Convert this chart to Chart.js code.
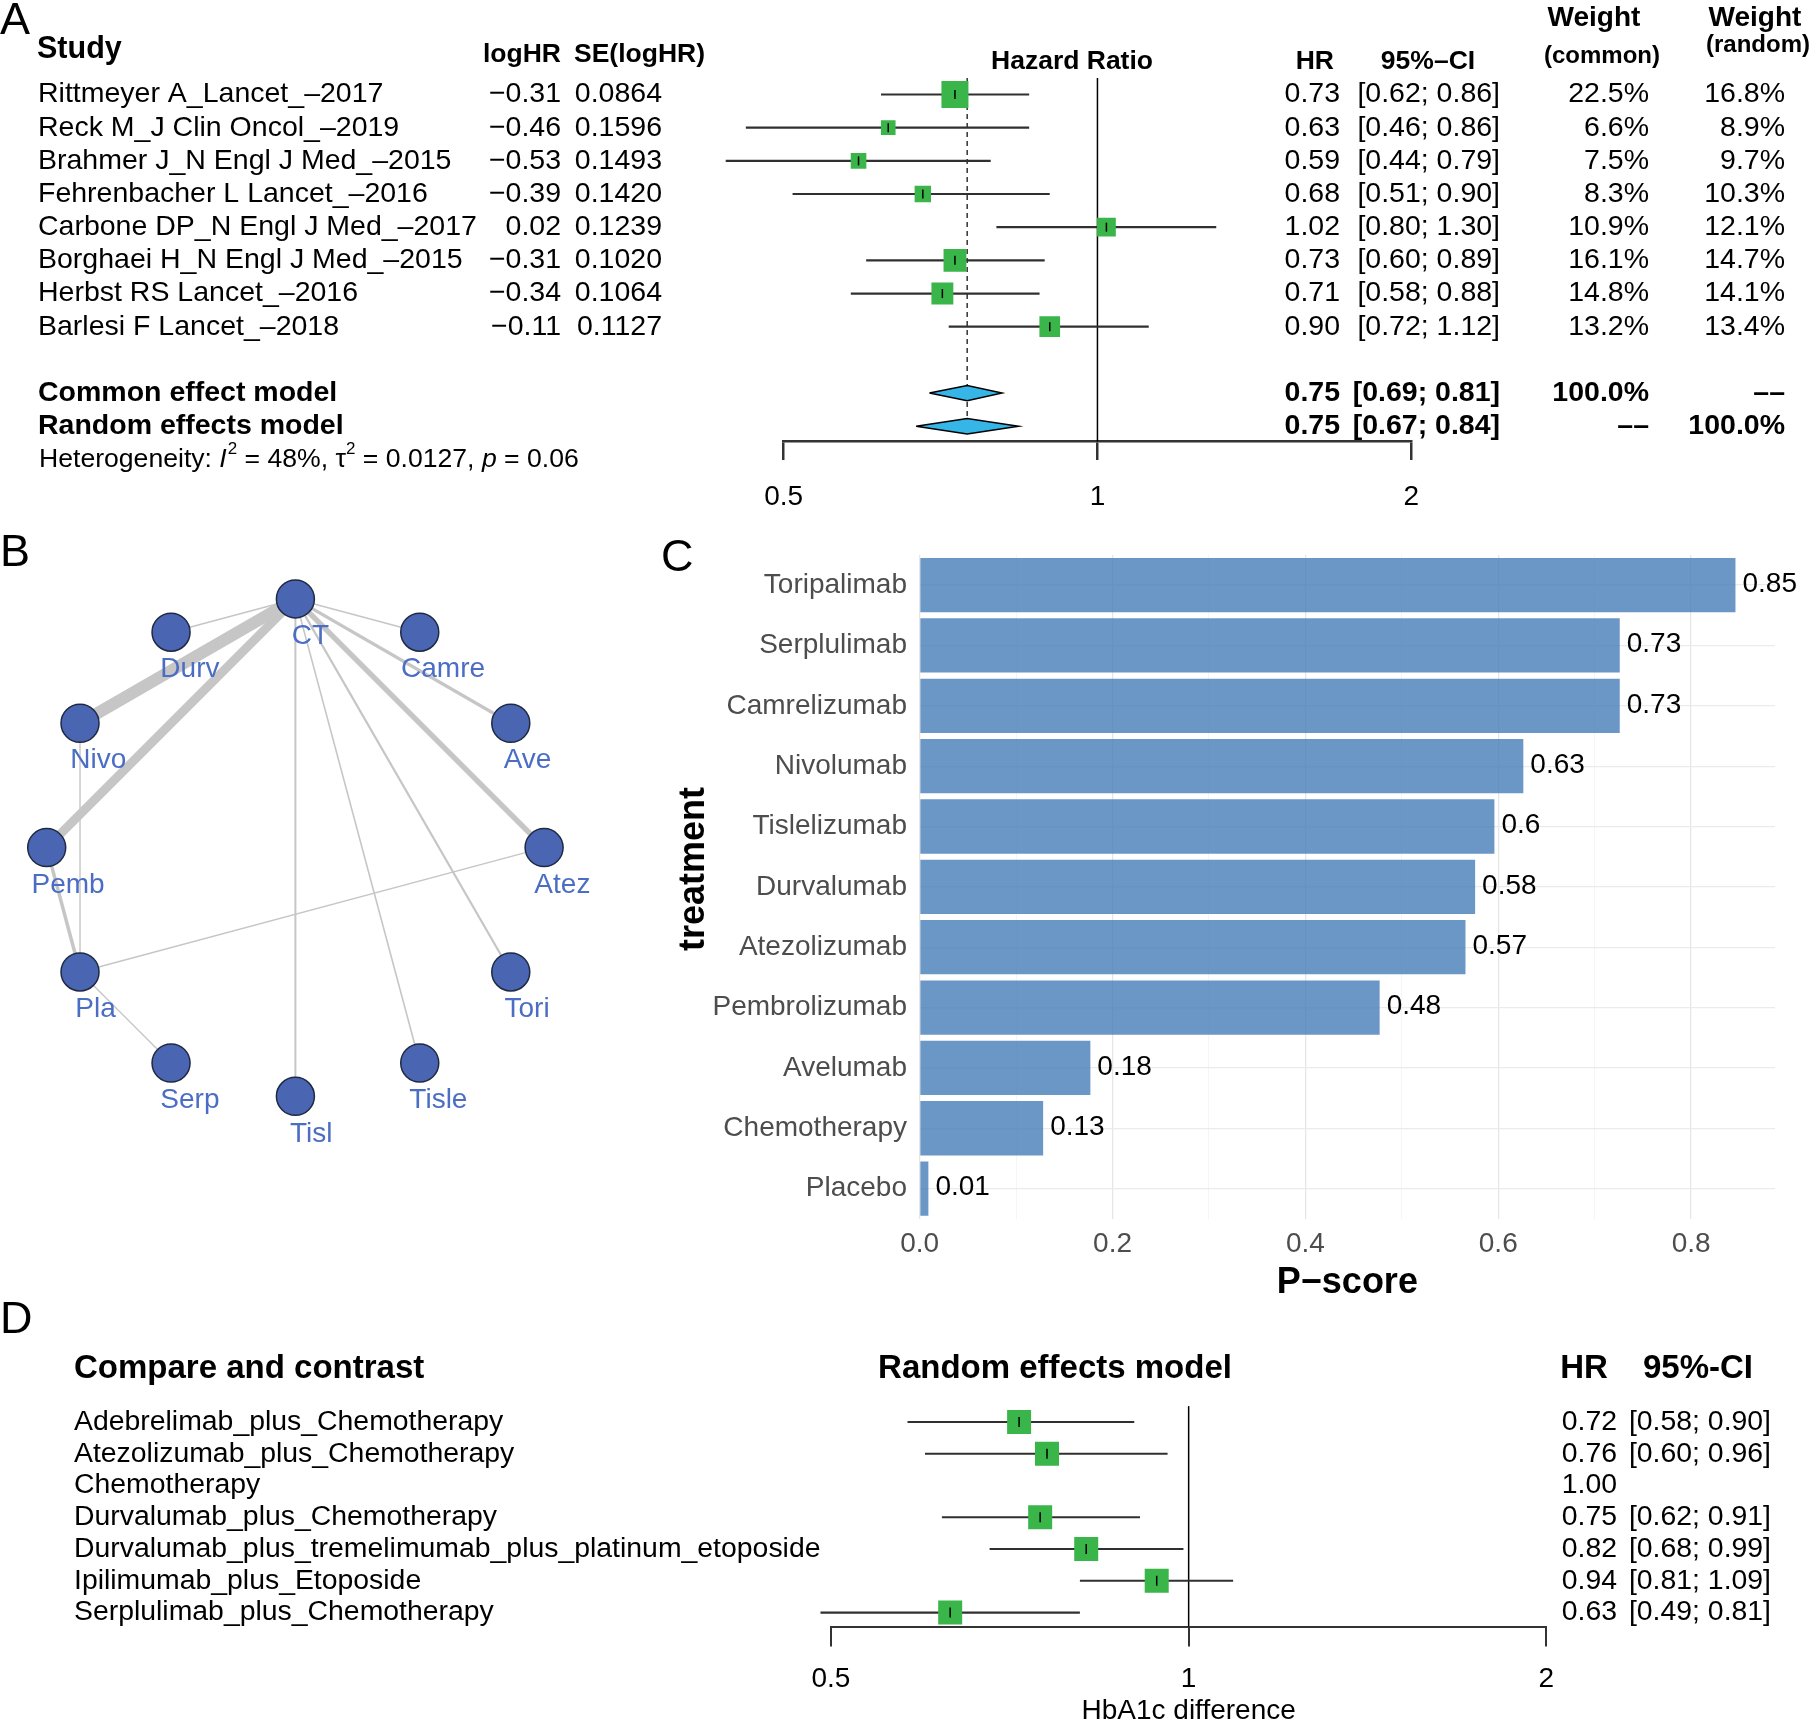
<!DOCTYPE html>
<html>
<head>
<meta charset="utf-8">
<script src="https://cdn.jsdelivr.net/npm/chart.js@4.4.1/dist/chart.umd.min.js"></script>
<style>
html, body { margin: 0; padding: 0; background: #fff; }
body { width: 1810px; height: 1722px; position: relative; overflow: hidden; font-family: "Liberation Sans", Arial, Helvetica, sans-serif; }
canvas { position: absolute; }
.tag { position: absolute; font-size: 45px; line-height: 1; color: #000; z-index: 2; }
</style>
</head>
<body>
<canvas id="forestA" style="left:0;top:0" width="1810" height="530"></canvas>
<canvas id="network" style="left:0;top:540px" width="600" height="620"></canvas>
<canvas id="pscore" style="left:660px;top:530px" width="1150" height="775"></canvas>
<canvas id="forestD" style="left:0;top:1330px" width="1810" height="392"></canvas>
<div class="tag" style="left:0;top:-4px">A</div>
<div class="tag" style="left:0;top:528px">B</div>
<div class="tag" style="left:661px;top:533px">C</div>
<div class="tag" style="left:0;top:1295px">D</div>
<script>
// A: pairwise meta-analysis
const studyNames = ["Rittmeyer A_Lancet_–2017", "Reck M_J Clin Oncol_–2019", "Brahmer J_N Engl J Med_–2015",
  "Fehrenbacher L Lancet_–2016", "Carbone DP_N Engl J Med_–2017", "Borghaei H_N Engl J Med_–2015",
  "Herbst RS Lancet_–2016", "Barlesi F Lancet_–2018"];
const studyLogHR = [-0.31, -0.46, -0.53, -0.39, 0.02, -0.31, -0.34, -0.11];
const studySE = [0.0864, 0.1596, 0.1493, 0.1420, 0.1239, 0.1020, 0.1064, 0.1127];
const studyHR = [0.73, 0.63, 0.59, 0.68, 1.02, 0.73, 0.71, 0.90];
const studyLo = [0.62, 0.46, 0.44, 0.51, 0.80, 0.60, 0.58, 0.72];
const studyHi = [0.86, 0.86, 0.79, 0.90, 1.30, 0.89, 0.88, 1.12];
const weightCommon = [22.5, 6.6, 7.5, 8.3, 10.9, 16.1, 14.8, 13.2];
const weightRandom = [16.8, 8.9, 9.7, 10.3, 12.1, 14.7, 14.1, 13.4];
const pooledNames = ["Common effect model", "Random effects model"];
const pooledHR = [0.75, 0.75];
const pooledLo = [0.69, 0.67];
const pooledHi = [0.81, 0.84];
const pooledWCommon = ["100.0%", "––"];
const pooledWRandom = ["––", "100.0%"];
const hetI2 = "48%", hetTau2 = "0.0127", hetP = "0.06";
const axisTicksA = [0.5, 1, 2];

// B: network
const nodeNames = ["CT", "Camre", "Ave", "Atez", "Tori", "Tisle", "Tisl", "Serp", "Pla", "Pemb", "Nivo", "Durv"];
const edgeFrom = ["CT", "CT", "CT", "CT", "CT", "CT", "CT", "CT", "CT", "Pemb", "Nivo", "Atez", "Pla"];
const edgeTo = ["Nivo", "Pemb", "Atez", "Ave", "Tori", "Tisl", "Durv", "Camre", "Tisle", "Pla", "Pla", "Pla", "Serp"];
const edgeWeight = [12, 9, 5.5, 3.2, 2.2, 2, 1.6, 1.6, 1.6, 3.5, 1.4, 1.4, 1.4];

// C: P-scores
const treatments = ["Toripalimab", "Serplulimab", "Camrelizumab", "Nivolumab", "Tislelizumab", "Durvalumab",
  "Atezolizumab", "Pembrolizumab", "Avelumab", "Chemotherapy", "Placebo"];
const pScores = [0.846, 0.726, 0.726, 0.626, 0.596, 0.576, 0.566, 0.477, 0.177, 0.128, 0.009];

// D: network estimates
const compNames = ["Adebrelimab_plus_Chemotherapy", "Atezolizumab_plus_Chemotherapy", "Chemotherapy",
  "Durvalumab_plus_Chemotherapy", "Durvalumab_plus_tremelimumab_plus_platinum_etoposide",
  "Ipilimumab_plus_Etoposide", "Serplulimab_plus_Chemotherapy"];
const compHR = [0.72, 0.76, 1.00, 0.75, 0.82, 0.94, 0.63];
const compLo = [0.58, 0.60, null, 0.62, 0.68, 0.81, 0.49];
const compHi = [0.90, 0.96, null, 0.91, 0.99, 1.09, 0.81];
const axisTicksD = [0.5, 1, 2];

const FONT = "'Liberation Sans', Arial, Helvetica, sans-serif";
Chart.defaults.font.family = FONT;
Chart.defaults.color = "#000";
Chart.defaults.animation = false;
Chart.defaults.events = [];
Chart.defaults.plugins.legend.display = false;
Chart.defaults.plugins.tooltip.enabled = false;

const green = "#3ab54a", cyan = "#35b6e6", ciColor = "#303030";

function put(ctx, s, x, y, size, o = {}) {
  ctx.save();
  ctx.font = `${o.italic ? "italic " : ""}${o.bold ? "bold " : ""}${size}px ${FONT}`;
  ctx.fillStyle = o.color || "#000";
  ctx.textAlign = o.align || "left";
  ctx.textBaseline = "middle";
  ctx.fillText(s, x, y);
  const w = ctx.measureText(s).width;
  ctx.restore();
  return w;
}
const num = (v, d) => v.toFixed(d).replace("-", "−");
const ci = (lo, hi) => `[${lo.toFixed(2)}; ${hi.toFixed(2)}]`;

// ---------- panel A ----------
const pooledRow = k => studyNames.length + 1 + k;
const maxW = Math.max(...weightCommon);

const refLinesA = {
  id: "refLinesA",
  beforeDatasetsDraw(chart) {
    const {ctx, chartArea: a, scales: {x, y}} = chart;
    ctx.save();
    ctx.strokeStyle = "#000";
    ctx.lineWidth = 1.5;
    ctx.beginPath();
    ctx.moveTo(x.getPixelForValue(1), a.top);
    ctx.lineTo(x.getPixelForValue(1), a.bottom);
    ctx.stroke();
    ctx.setLineDash([5, 4]);
    ctx.strokeStyle = "#333";
    ctx.beginPath();
    ctx.moveTo(x.getPixelForValue(pooledHR[0]), a.top);
    ctx.lineTo(x.getPixelForValue(pooledHR[0]), y.getPixelForValue(pooledRow(1)));
    ctx.stroke();
    ctx.restore();
  }
};

const textA = {
  id: "textA",
  afterDraw(chart) {
    const {ctx, scales: {y}} = chart;
    const row = r => y.getPixelForValue(r);
    const fs = 28.5;
    put(ctx, "Study", 37, 49.5, 30.5, {bold: true});
    put(ctx, "logHR", 561, row(-1.2), 26.5, {bold: true, align: "right"});
    put(ctx, "SE(logHR)", 574, row(-1.2), 26.5, {bold: true});
    put(ctx, "Hazard Ratio", 1072, row(-1), 26.5, {bold: true, align: "center"});
    put(ctx, "HR", 1334, row(-1), 26.5, {bold: true, align: "right"});
    put(ctx, "95%–CI", 1428, row(-1), 26.5, {bold: true, align: "center"});
    put(ctx, "Weight", 1594, 18.5, 28, {bold: true, align: "center"});
    put(ctx, "(common)", 1602, 56, 24, {bold: true, align: "center"});
    put(ctx, "Weight", 1755, 18.5, 28, {bold: true, align: "center"});
    put(ctx, "(random)", 1758, 45, 24, {bold: true, align: "center"});
    studyNames.forEach((s, i) => {
      const yy = row(i);
      put(ctx, s, 38, yy, fs);
      put(ctx, num(studyLogHR[i], 2), 561, yy, fs, {align: "right"});
      put(ctx, num(studySE[i], 4), 662, yy, fs, {align: "right"});
      put(ctx, studyHR[i].toFixed(2), 1340, yy, fs, {align: "right"});
      put(ctx, ci(studyLo[i], studyHi[i]), 1500, yy, fs, {align: "right"});
      put(ctx, weightCommon[i].toFixed(1) + "%", 1649, yy, fs, {align: "right"});
      put(ctx, weightRandom[i].toFixed(1) + "%", 1785, yy, fs, {align: "right"});
    });
    pooledNames.forEach((s, k) => {
      const yy = row(pooledRow(k));
      put(ctx, s, 38, yy, fs, {bold: true});
      put(ctx, pooledHR[k].toFixed(2), 1340, yy, fs, {bold: true, align: "right"});
      put(ctx, ci(pooledLo[k], pooledHi[k]), 1500, yy, fs, {bold: true, align: "right"});
      put(ctx, pooledWCommon[k], 1649, yy, fs, {bold: true, align: "right"});
      put(ctx, pooledWRandom[k], 1785, yy, fs, {bold: true, align: "right"});
    });
    // heterogeneity line with super/italic parts
    const hy = row(pooledRow(2));
    const hs = 26.6;
    let hx = 39;
    hx += put(ctx, "Heterogeneity: ", hx, hy, hs);
    hx += put(ctx, "I", hx, hy, hs, {italic: true}) + 1;
    hx += put(ctx, "2", hx, hy - 10, 17);
    hx += put(ctx, " = " + hetI2 + ", τ", hx, hy, hs);
    hx += put(ctx, "2", hx, hy - 10, 17);
    hx += put(ctx, " = " + hetTau2 + ", ", hx, hy, hs);
    hx += put(ctx, "p", hx, hy, hs, {italic: true});
    put(ctx, " = " + hetP, hx, hy, hs);
  }
};

const diamond = k => {
  const r = pooledRow(k), h = 0.23;
  return [{x: pooledLo[k], y: r}, {x: pooledHR[k], y: r - h}, {x: pooledHi[k], y: r},
    {x: pooledHR[k], y: r + h}, {x: pooledLo[k], y: r}];
};

new Chart(document.getElementById("forestA"), {
  type: "scatter",
  data: {
    datasets: [
      {data: studyHR.map((v, i) => ({x: v, y: i})), pointStyle: "line", rotation: 90,
        pointRadius: 4.5, borderColor: "#000", borderWidth: 1.5, order: 0, clip: false},
      {data: studyHR.map((v, i) => ({x: v, y: i})), pointStyle: "rect",
        pointRadius: weightCommon.map(w => 27 * Math.sqrt(w / maxW) / Math.SQRT2),
        backgroundColor: green, borderWidth: 0, order: 1},
      ...studyLo.map((lo, i) => ({data: [{x: lo, y: i}, {x: studyHi[i], y: i}], showLine: true,
        pointRadius: 0, borderColor: ciColor, borderWidth: 2.2, order: 2, clip: false})),
      ...pooledNames.map((_, k) => ({data: diamond(k), showLine: true, fill: "shape", tension: 0,
        pointRadius: 0, borderColor: "#000", borderWidth: 1.5, backgroundColor: cyan, order: 3, clip: false}))
    ]
  },
  options: {
    responsive: false,
    layout: {padding: {left: 783.6, right: 398.7, top: 77.9, bottom: 0}},
    scales: {
      x: {
        type: "logarithmic", min: 0.5, max: 2, position: "bottom",
        afterBuildTicks: s => { s.ticks = axisTicksA.map(v => ({value: v})); },
        afterFit: s => { s.height = 530 - 441.5; },
        ticks: {callback: v => String(v), font: {size: 28}, color: "#000", padding: 20, maxRotation: 0, autoSkip: false},
        grid: {drawOnChartArea: false, color: "#333", lineWidth: 2.5, tickLength: 18.5},
        border: {display: true, color: "#333", width: 2.5}
      },
      y: {type: "linear", display: false, reverse: true, min: -0.5, max: 10.46}
    }
  },
  plugins: [refLinesA, textA]
});

// ---------- panel B ----------
const nodeX = nodeNames.map((_, i) => Math.sin(i * 2 * Math.PI / nodeNames.length));
const nodeY = nodeNames.map((_, i) => Math.cos(i * 2 * Math.PI / nodeNames.length));
const nodeAt = n => ({x: nodeX[nodeNames.indexOf(n)], y: nodeY[nodeNames.indexOf(n)]});
const bW = 600, bH = 620, bCx = 295.4, bCy = 307.6, bR = 248.7;

const labelsB = {
  id: "labelsB",
  afterDatasetsDraw(chart) {
    const {ctx, scales: {x, y}} = chart;
    ctx.save();
    ctx.font = `28px ${FONT}`;
    nodeNames.forEach((n, i) => {
      const w = ctx.measureText(n).width;
      put(ctx, n, x.getPixelForValue(nodeX[i]) + 8.2 + 0.18 * w, y.getPixelForValue(nodeY[i]) + 37.5, 28,
        {align: "center", color: "#4b6dc3"});
    });
    ctx.restore();
  }
};

new Chart(document.getElementById("network"), {
  type: "scatter",
  data: {
    datasets: [
      {data: nodeNames.map((_, i) => ({x: nodeX[i], y: nodeY[i]})), pointRadius: 19,
        backgroundColor: "#4a66b3", borderColor: "#1f2942", borderWidth: 1.5, order: 0, clip: false},
      ...edgeFrom.map((f, i) => ({data: [nodeAt(f), nodeAt(edgeTo[i])], showLine: true, pointRadius: 0,
        borderColor: "#c6c6c6", borderWidth: edgeWeight[i], order: 1}))
    ]
  },
  options: {
    responsive: false,
    layout: {padding: 0, autoPadding: false},
    scales: {
      x: {type: "linear", display: false, min: -bCx / bR, max: (bW - bCx) / bR},
      y: {type: "linear", display: false, min: -(bH - bCy) / bR, max: bCy / bR}
    }
  },
  plugins: [labelsB]
});

// ---------- panel C ----------
const valueLabelsC = {
  id: "valueLabelsC",
  afterDatasetsDraw(chart) {
    const {ctx} = chart;
    chart.getDatasetMeta(0).data.forEach((bar, i) => {
      put(ctx, String(Math.round(pScores[i] * 100) / 100), bar.x + 7, bar.y - 1, 28);
    });
    ctx.save();
    ctx.translate(33.6, 339);
    ctx.rotate(-Math.PI / 2);
    put(ctx, "treatment", 0, 0, 36, {bold: true, align: "center"});
    ctx.restore();
  }
};

new Chart(document.getElementById("pscore"), {
  type: "bar",
  data: {
    labels: treatments,
    datasets: [{data: pScores, backgroundColor: "rgba(70,125,185,0.8)", borderWidth: 0,
      categoryPercentage: 0.9, barPercentage: 1}]
  },
  options: {
    responsive: false,
    indexAxis: "y",
    layout: {padding: {left: 0, top: 24.9, right: 35, bottom: 0}, autoPadding: false},
    scales: {
      x: {
        type: "linear", min: 0, max: 0.887,
        afterFit: s => { s.height = 775 - 688.8; s.paddingLeft = 0; s.paddingRight = 0; },
        ticks: {stepSize: 0.1, includeBounds: false, padding: 8.5, font: {size: 28}, color: "#4d4d4d",
          callback: v => (Math.round(v * 10) % 2 === 0 ? v.toFixed(1) : "")},
        grid: {drawTicks: false,
          color: c => (Math.round(c.tick.value * 10) % 2 === 0 ? "#e6e6e6" : "#f2f2f2"),
          lineWidth: c => (Math.round(c.tick.value * 10) % 2 === 0 ? 1.3 : 0.8)},
        border: {display: false},
        title: {display: true, text: "P−score", font: {size: 36, weight: "bold"}, color: "#000", padding: 0}
      },
      y: {
        afterFit: s => { s.width = 259.7; s.paddingTop = 0; s.paddingBottom = 0; },
        ticks: {font: {size: 28}, color: "#4d4d4d", padding: 12.7},
        grid: {drawTicks: false, offset: false, color: "#ebebeb", lineWidth: 1.2},
        border: {display: false}
      }
    }
  },
  plugins: [valueLabelsC]
});

// ---------- panel D ----------
const refLineD = {
  id: "refLineD",
  beforeDatasetsDraw(chart) {
    const {ctx, chartArea: a, scales: {x}} = chart;
    ctx.save();
    ctx.strokeStyle = "#000";
    ctx.lineWidth = 1.5;
    ctx.beginPath();
    ctx.moveTo(x.getPixelForValue(1), a.top);
    ctx.lineTo(x.getPixelForValue(1), a.bottom);
    ctx.stroke();
    ctx.restore();
  }
};

const textD = {
  id: "textD",
  afterDraw(chart) {
    const {ctx, scales: {y}} = chart;
    const hy = y.getPixelForValue(-1.67);
    put(ctx, "Compare and contrast", 74, hy, 33, {bold: true});
    put(ctx, "Random effects model", 1055, hy, 33, {bold: true, align: "center"});
    put(ctx, "HR", 1584, hy, 33, {bold: true, align: "center"});
    put(ctx, "95%-CI", 1698, hy, 33, {bold: true, align: "center"});
    compNames.forEach((s, i) => {
      const yy = y.getPixelForValue(i);
      put(ctx, s, 74, yy, 28.4);
      put(ctx, compHR[i].toFixed(2), 1617, yy, 28.4, {align: "right"});
      if (compLo[i] !== null) put(ctx, ci(compLo[i], compHi[i]), 1771, yy, 28.4, {align: "right"});
    });
  }
};

const withCI = compHR.map((_, i) => i).filter(i => compLo[i] !== null);

new Chart(document.getElementById("forestD"), {
  type: "scatter",
  data: {
    datasets: [
      {data: withCI.map(i => ({x: compHR[i], y: i})), pointStyle: "line", rotation: 90,
        pointRadius: 5, borderColor: "#000", borderWidth: 1.5, order: 0},
      {data: withCI.map(i => ({x: compHR[i], y: i})), pointStyle: "rect", pointRadius: 24 / Math.SQRT2,
        backgroundColor: green, borderWidth: 0, order: 1},
      ...withCI.map(i => ({data: [{x: compLo[i], y: i}, {x: compHi[i], y: i}], showLine: true,
        pointRadius: 0, borderColor: ciColor, borderWidth: 2.2, order: 2, clip: false}))
    ]
  },
  options: {
    responsive: false,
    layout: {padding: {left: 830.9, right: 263.6, top: 76.1, bottom: 0}},
    scales: {
      x: {
        type: "logarithmic", min: 0.5, max: 2, position: "bottom",
        afterBuildTicks: s => { s.ticks = axisTicksD.map(v => ({value: v})); },
        afterFit: s => { s.height = 392 - 296.5; },
        ticks: {callback: v => String(v), font: {size: 28}, color: "#000", padding: 15.5, maxRotation: 0, autoSkip: false},
        grid: {drawOnChartArea: false, color: "#333", lineWidth: 2, tickLength: 20},
        border: {display: true, color: "#333", width: 2},
        title: {display: true, text: "HbA1c difference", font: {size: 28, lineHeight: 0.8}, color: "#000", padding: 0}
      },
      y: {type: "linear", display: false, reverse: true, min: -0.5, max: 6.44}
    }
  },
  plugins: [refLineD, textD]
});
</script>
</body>
</html>
